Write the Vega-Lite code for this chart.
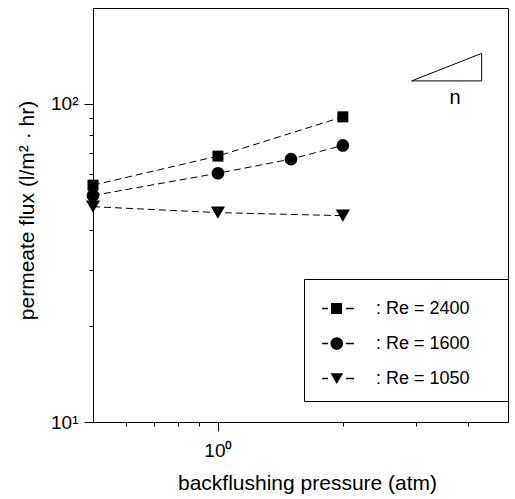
{
  "$schema": "https://vega.github.io/schema/vega-lite/v6.json",
  "width": 415,
  "height": 414,
  "autosize": {"type": "none"},
  "padding": {"left": 93, "top": 8, "right": 7, "bottom": 77},
  "background": "white",
  "config": {
    "view": {"stroke": "black", "strokeWidth": 1},
    "axis": {
      "grid": false,
      "domainColor": "black",
      "domainWidth": 1,
      "tickColor": "black",
      "tickWidth": 1,
      "labelFont": "Liberation Sans",
      "labelFontSize": 19,
      "labelColor": "black",
      "titleFont": "Liberation Sans",
      "titleFontSize": 21,
      "titleFontWeight": "normal",
      "titleColor": "black"
    }
  },
  "datasets": {
    "main": [
      {"x": 0.5, "y": 55.5, "series": "2400"},
      {"x": 1, "y": 68.5, "series": "2400"},
      {"x": 2, "y": 91, "series": "2400"},
      {"x": 0.5, "y": 51.5, "series": "1600"},
      {"x": 1, "y": 60.5, "series": "1600"},
      {"x": 1.5, "y": 67, "series": "1600"},
      {"x": 2, "y": 74, "series": "1600"},
      {"x": 0.5, "y": 47.5, "series": "1050"},
      {"x": 1, "y": 45.5, "series": "1050"},
      {"x": 2, "y": 44.5, "series": "1050"}
    ],
    "tri": [
      {"x": 2.93, "y": 118, "o": 0},
      {"x": 4.32, "y": 144, "o": 1},
      {"x": 4.32, "y": 118, "o": 2},
      {"x": 2.93, "y": 118, "o": 3}
    ],
    "note": [
      {"x": 3.73, "y": 104, "label": "n"}
    ]
  },
  "encoding": {
    "x": {
      "field": "x",
      "type": "quantitative",
      "title": "backflushing pressure (atm)",
      "scale": {"type": "log", "domain": [0.5, 5], "nice": false},
      "axis": {
        "values": [0.6, 0.7, 0.8, 0.9, 1, 2, 3, 4],
        "labelExpr": "datum.value == 1 ? '10⁰' : ''",
        "tickSize": {"condition": {"test": "datum.value == 1", "value": 9}, "value": 4},
        "labelPadding": 10,
        "titleBaseline": "alphabetic",
        "titleX": 214,
        "titleY": 67
      }
    },
    "y": {
      "field": "y",
      "type": "quantitative",
      "title": "permeate flux (l/m² · hr)",
      "scale": {"type": "log", "domain": [10, 200], "nice": false},
      "axis": {
        "values": [10, 20, 30, 40, 50, 60, 70, 80, 90, 100],
        "labelExpr": "datum.value == 10 ? '10¹' : datum.value == 100 ? '10²' : ''",
        "tickSize": {"condition": {"test": "datum.value == 10 || datum.value == 100", "value": 9}, "value": 4},
        "labelPadding": 6,
        "titleBaseline": "alphabetic",
        "titleX": -60,
        "titleY": 202
      }
    }
  },
  "layer": [
    {
      "data": {"name": "main"},
      "mark": {"type": "line", "color": "black", "strokeWidth": 1, "strokeDash": [7, 4]},
      "encoding": {"detail": {"field": "series", "type": "nominal"}}
    },
    {
      "data": {"name": "main"},
      "mark": {"type": "point", "filled": true, "color": "black", "opacity": 1},
      "encoding": {
        "shape": {
          "field": "series",
          "type": "nominal",
          "scale": {"domain": ["2400", "1600", "1050"], "range": ["square", "circle", "triangle-down"]},
          "legend": null
        },
        "size": {
          "field": "series",
          "type": "ordinal",
          "scale": {"domain": ["2400", "1600", "1050"], "range": [121, 200, 180]},
          "legend": null
        }
      }
    },
    {
      "data": {"name": "main"},
      "mark": {"type": "point", "filled": true, "color": "black", "opacity": 0},
      "encoding": {
        "shape": {
          "field": "series",
          "type": "nominal",
          "scale": {
            "domain": ["2400", "1600", "1050"],
            "range": [
              "M-0.69,-0.05H-0.33V0.05H-0.69Z M-0.15,-0.33H0.52V0.33H-0.15Z M0.76,-0.05H1.24V0.05H0.76Z",
              "M-0.69,-0.05H-0.33V0.05H-0.69Z M-0.18,0A0.38,0.38,0,1,0,0.58,0A0.38,0.38,0,1,0,-0.18,0Z M0.76,-0.05H1.24V0.05H0.76Z",
              "M-0.69,-0.05H-0.33V0.05H-0.69Z M-0.18,-0.32H0.58L0.2,0.34Z M0.76,-0.05H1.24V0.05H0.76Z"
            ]
          },
          "legend": {
            "orient": "none",
            "legendX": 211,
            "legendY": 271,
            "title": ".",
            "titleOrient": "right",
            "titleOpacity": 0,
            "titleFontSize": 10,
            "titlePadding": 22,
            "direction": "vertical",
            "strokeColor": "black",
            "fillColor": "white",
            "padding": 13,
            "symbolSize": 1089,
            "symbolFillColor": "black",
            "symbolStrokeColor": "black",
            "symbolStrokeWidth": 0,
            "symbolOpacity": 1,
            "labelFont": "Liberation Sans",
            "labelFontSize": 18,
            "labelColor": "black",
            "labelOffset": 26,
            "labelLimit": 400,
            "rowPadding": 9,
            "labelExpr": "': Re = ' + datum.label"
          }
        }
      }
    },
    {
      "data": {"name": "tri"},
      "mark": {"type": "line", "color": "black", "strokeWidth": 1},
      "encoding": {"order": {"field": "o", "type": "quantitative"}}
    },
    {
      "data": {"name": "note"},
      "mark": {"type": "text", "font": "Liberation Sans", "fontSize": 20, "color": "black", "align": "center", "baseline": "middle"},
      "encoding": {"text": {"field": "label", "type": "nominal"}}
    }
  ],
  "resolve": {"scale": {"shape": "independent"}}
}
